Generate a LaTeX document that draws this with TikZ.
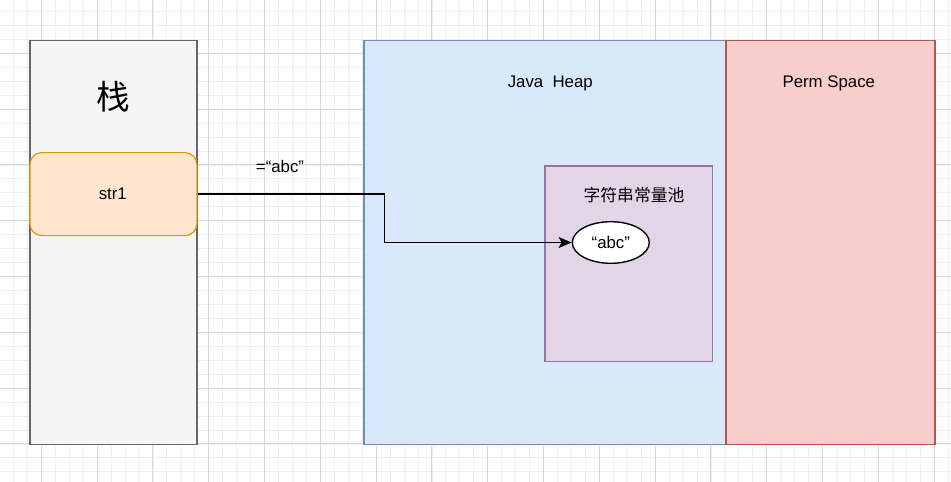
\documentclass[tikz,border=0pt]{standalone}
\usepackage{fontspec}
\setmainfont{Liberation Sans}
\newfontfamily\cjk{Noto Sans CJK SC}
\usetikzlibrary{shapes.geometric,arrows.meta}
\definecolor{gridminor}{HTML}{EFEFEF}
\definecolor{gridmajor}{HTML}{D9D9D9}
\definecolor{stackfill}{HTML}{F5F5F5}
\definecolor{stackdraw}{HTML}{666666}
\definecolor{strfill}{HTML}{FFE6CC}
\definecolor{strdraw}{HTML}{D79B00}
\definecolor{heapfill}{HTML}{DAE8FC}
\definecolor{heapdraw}{HTML}{6C8EBF}
\definecolor{permfill}{HTML}{F8CECC}
\definecolor{permdraw}{HTML}{B85450}
\definecolor{poolfill}{HTML}{E1D5E7}
\definecolor{pooldraw}{HTML}{9673A6}
\tikzset{
  area/.style={draw, line width=1.2pt, inner sep=0pt, anchor=north west},
  txt/.style={inner sep=0pt, font=\fontsize{16.8}{20}\selectfont},
}
\begin{document}
\begin{tikzpicture}[x=1pt,y=-1pt]
\useasboundingbox (0,0) rectangle (951,482);
\fill[white] (0,0) rectangle (951,482);
\begin{scope}[shift={(41.3,53.3)}]
\draw[gridminor,line width=0.8pt,step=13.95pt] (-41.3,-53.3) grid (909.7,428.7);
\draw[gridmajor,line width=0.9pt,step=55.8pt] (-41.3,-53.3) grid (909.7,428.7);
\end{scope}

% stack
\node[area, fill=stackfill, draw=stackdraw, minimum width=167pt, minimum height=404pt] (stack) at (29.3,40) {};
\node[inner sep=0pt, font=\cjk\fontsize{33.6}{36}\selectfont] (stacklabel) at (112.8,97) {栈};
\node[area, fill=strfill, draw=strdraw, rounded corners=12pt, minimum width=167pt, minimum height=83pt] (str1) at (29.3,152) {};
\node[txt] (str1label) at (112.8,193.5) {str1};

% heap and perm space
\node[area, fill=heapfill, draw=heapdraw, minimum width=362pt, minimum height=404pt] (heap) at (363.3,40) {};
\node[txt] (heaplabel) at (550.3,83) {Java\ \ Heap};
\node[area, fill=permfill, draw=permdraw, minimum width=209pt, minimum height=404pt] (perm) at (725.3,40) {};
\node[txt] (permlabel) at (828.8,83) {Perm Space};

% string pool
\node[area, fill=poolfill, draw=pooldraw, minimum width=167.4pt, minimum height=195.4pt] (pool) at (544.3,165.3) {};
\node[txt, font=\cjk\fontsize{16.8}{20}\selectfont] (poollabel) at (634,195) {字符串常量池};
\node[ellipse, draw, fill=white, line width=1.4pt, minimum width=77pt, minimum height=41.6pt, inner sep=0pt, txt] (abc) at (610.8,242.5) {“abc”};

% reference
\coordinate (bend) at (384.3,242.5);
\draw[-{Stealth[length=13pt,width=11pt,inset=3pt]}, line width=1.5pt] (str1.east) -| (bend) -- (abc.west);
\node[txt] (assign) at (280,166.5) {=“abc”};
\end{tikzpicture}
\end{document}
